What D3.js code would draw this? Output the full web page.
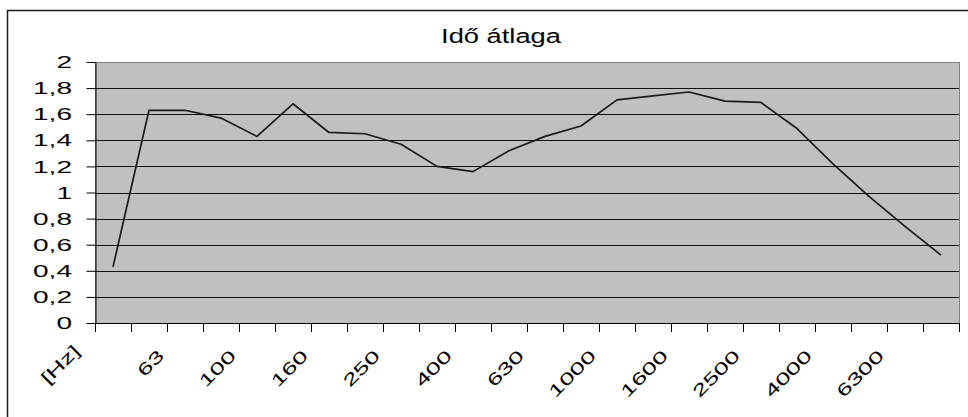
<!DOCTYPE html>
<html>
<head>
<meta charset="utf-8">
<script src="https://cdn.jsdelivr.net/npm/d3@7"></script>
<style>
  html, body { margin: 0; padding: 0; background: #fff; overflow: hidden; }
  svg { display: block; }
</style>
</head>
<body>
<svg id="chart" width="968" height="417"></svg>
<script>
// Average time per frequency band
const title = "Idő átlaga";
const categories = ["[Hz]", "50", "63", "80", "100", "125", "160", "200", "250", "315", "400", "500",
                    "630", "800", "1000", "1250", "1600", "2000", "2500", "3150", "4000", "5000", "6300", "8000"];
const values = [0.43, 1.63, 1.63, 1.57, 1.43, 1.68, 1.46, 1.45, 1.37, 1.20, 1.16, 1.32,
                1.43, 1.51, 1.71, 1.74, 1.77, 1.70, 1.69, 1.49, 1.22, 0.97, 0.74, 0.52];
const yTicks = [0, 0.2, 0.4, 0.6, 0.8, 1, 1.2, 1.4, 1.6, 1.8, 2];
const xTickLabels = ["[Hz]", "63", "100", "160", "250", "400", "630", "1000", "1600", "2500", "4000", "6300"];

const W = 968, H = 417;
const plot = { left: 95, right: 959, top: 62, bottom: 323 };
const font = "'Liberation Sans', Arial, sans-serif";
const svg = d3.select("#chart");

// outer chart frame
svg.append("rect")
  .attr("x", 7.5).attr("y", 10.5)
  .attr("width", W).attr("height", H)
  .attr("fill", "#fff").attr("stroke", "#1e1e1e").attr("stroke-width", 1.5);

const x = d3.scaleBand().domain(categories).range([plot.left, plot.right]).padding(0);
const y = d3.scaleLinear().domain([0, 2]).range([plot.bottom, plot.top]);
const huLocale = d3.formatLocale({ decimal: ",", thousands: " ", grouping: [3], currency: ["", " Ft"] });
const fmt = huLocale.format("~g");

// plot area
svg.append("rect")
  .attr("x", plot.left + 0.5).attr("y", plot.top + 0.5)
  .attr("width", plot.right - plot.left).attr("height", plot.bottom - plot.top)
  .attr("fill", "#c0c0c0").attr("stroke", "#808080").attr("stroke-width", 1);

// horizontal gridlines
svg.append("g").selectAll("line")
  .data(yTicks.filter(v => v > 0 && v < 2))
  .join("line")
  .attr("x1", plot.left).attr("x2", plot.right)
  .attr("y1", d => Math.round(y(d)) + 0.5).attr("y2", d => Math.round(y(d)) + 0.5)
  .attr("stroke", "#111").attr("stroke-width", 1);

// y axis line and ticks
const yAxis = svg.append("g")
  .attr("transform", `translate(${plot.left + 0.5},0)`)
  .call(d3.axisLeft(y).tickValues(yTicks).tickSize(9).tickSizeOuter(0).tickFormat(() => ""));
yAxis.select(".domain").attr("stroke", "#000");
yAxis.selectAll(".tick line").attr("stroke", "#000");

// y tick labels (wide face)
const yLabels = svg.append("g").attr("class", "y-labels");
yTicks.forEach(v => {
  yLabels.append("text")
    .attr("transform", `translate(72,${y(v)}) scale(1.65,1)`)
    .attr("dy", "0.36em")
    .attr("text-anchor", "end")
    .attr("font-family", font).attr("font-size", 17).attr("fill", "#000")
    .text(fmt(v));
});

// x axis: tick marks between categories
const xEdges = categories.map(c => x(c)).concat([plot.right]);
const xAxis = svg.append("g");
xAxis.append("line")
  .attr("x1", plot.left).attr("x2", plot.right + 1)
  .attr("y1", Math.round(y(0)) + 0.5).attr("y2", Math.round(y(0)) + 0.5)
  .attr("stroke", "#000");
xAxis.selectAll("line.tick")
  .data(xEdges)
  .join("line")
  .attr("class", "tick")
  .attr("x1", d => Math.round(d) + 0.5).attr("x2", d => Math.round(d) + 0.5)
  .attr("y1", Math.round(y(0))).attr("y2", Math.round(y(0)) + 9)
  .attr("stroke", "#000");

// rotated category labels; the unit label sits a little further out
const bw = x.bandwidth();
const xLabels = svg.append("g").attr("class", "x-labels");
xTickLabels.forEach((d, i) => {
  const cx = x(d) + bw / 2 - 20 + (i === 0 ? -12 : 0);
  const cy = y(0) + 34 + (i === 0 ? -5 : 0);
  xLabels.append("text")
    .attr("transform", `translate(${cx},${cy}) rotate(-45) scale(1.55,1)`)
    .attr("text-anchor", "end")
    .attr("font-family", font).attr("font-size", 17).attr("fill", "#000")
    .text(d);
});

// data line
const line = d3.line()
  .x((d, i) => x(categories[i]) + bw / 2)
  .y(d => y(d));
svg.append("path")
  .datum(values)
  .attr("d", line)
  .attr("fill", "none")
  .attr("stroke", "#1a1a1a")
  .attr("stroke-width", 1.7)
  .attr("stroke-linejoin", "round");

// title
svg.append("text")
  .attr("transform", "translate(501,43) scale(1.3,1)")
  .attr("text-anchor", "middle")
  .attr("font-family", font).attr("font-size", 21).attr("fill", "#000")
  .text(title);
</script>
</body>
</html>
